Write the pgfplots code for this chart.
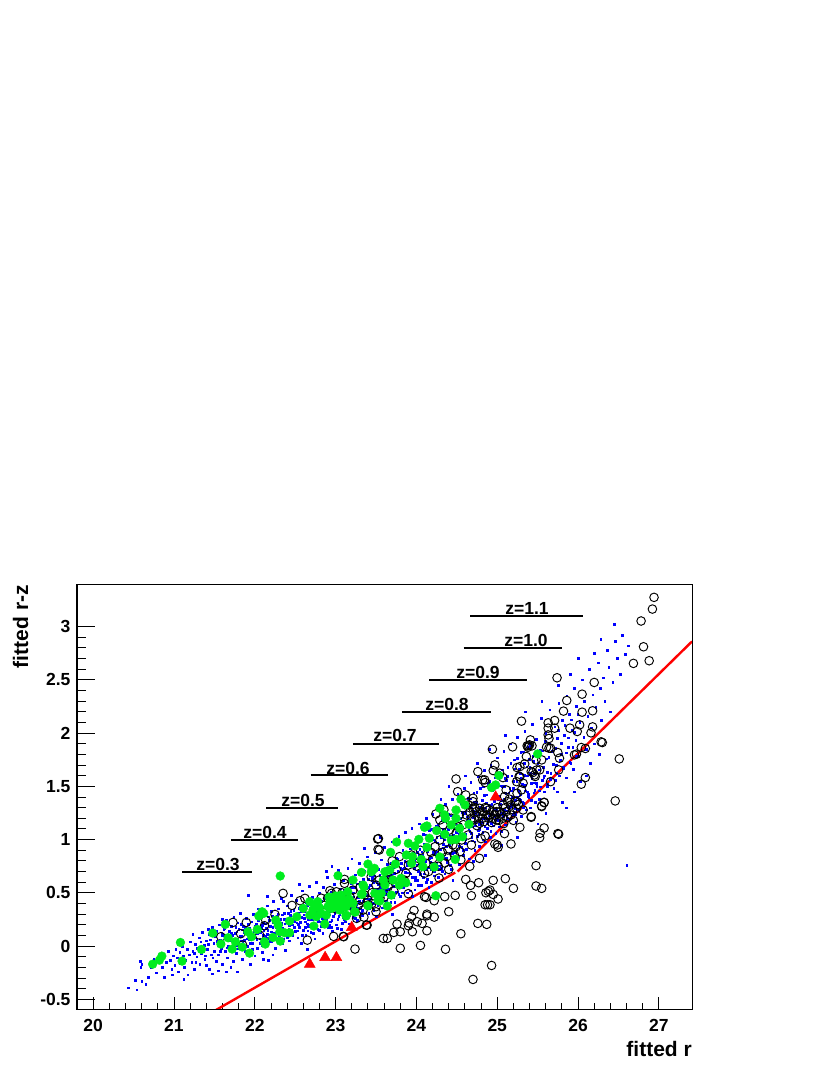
\documentclass[border=0pt]{standalone}
\usepackage{fontspec}
\setmainfont{Liberation Sans}
\usepackage{pgfplots}
\pgfplotsset{compat=1.18}
\definecolor{rootblue}{RGB}{0,0,255}
\definecolor{rootgreen}{RGB}{0,236,30}
\definecolor{rootred}{RGB}{255,0,0}
\newcommand{\zlab}[3]{\addplot[black,line width=2pt,forget plot] coordinates {(#1,#3) (#2,#3)};}
\begin{document}
\begin{tikzpicture}[x=1pt,y=1pt]
\path[use as bounding box] (0,0) rectangle (830,1075);
\pgfplotsset{rootaxis/.style={
    at={(77pt,65pt)}, anchor=south west, scale only axis,
    width=615pt, height=425pt,
    xmin=19.8, xmax=27.41, ymin=-0.6, ymax=3.39,
    axis line style={line width=1pt,black},
    tick style={black,line width=0.9pt},
    tick align=inside,
    xtick pos=bottom, ytick pos=left,
    clip=true,
}}
\begin{axis}[rootaxis,
    xtick={20,21,22,23,24,25,26,27},
    xticklabels={20,21,22,23,24,25,26,27},
    minor x tick num=4,
    ytick=\empty,
    major tick length=13pt, minor tick length=6.5pt,
    x tick label style={font=\fontsize{17.5}{20}\selectfont\bfseries,yshift=-6pt},
]
% blue dots: reconstructed cloud
\addplot[only marks,mark=square*,mark size=0.85pt,rootblue,forget plot] coordinates {
(20.43,-0.39)(20.52,-0.32)(20.54,-0.41)(20.60,-0.33)(20.65,-0.36)(20.68,-0.29)(20.58,-0.14)(20.59,-0.20)(20.60,-0.17)(20.72,-0.20)(20.75,-0.12)(20.78,-0.25)(20.82,-0.10)(20.85,-0.20)(20.88,-0.29)(20.90,-0.15)(20.93,-0.05)(20.95,-0.13)(20.97,-0.22)(20.99,-0.09)
(21.01,-0.18)(21.02,-0.03)(21.04,-0.11)(21.05,-0.24)(21.07,-0.06)(21.08,-0.16)(21.10,0.00)(21.11,-0.09)(21.13,-0.20)(21.14,-0.13)(21.16,-0.03)(21.17,-0.27)(21.19,-0.08)(21.20,0.04)(21.22,-0.15)(21.23,-0.05)(21.25,-0.22)(21.26,0.02)(21.28,-0.10)(21.29,-0.02)(21.31,0.08)(21.32,-0.17)(21.34,-0.07)(21.35,0.13)(21.37,0.01)(21.38,-0.12)(21.40,0.05)(21.41,-0.03)(21.43,0.11)(21.44,-0.22)(21.46,-0.08)(21.47,0.18)(21.49,0.03)(21.50,-0.05)
(21.51,0.09)(21.52,-0.14)(21.53,0.14)(21.54,0.01)(21.55,-0.08)(21.56,0.20)(21.57,0.06)(21.58,-0.02)(21.59,0.12)(21.60,-0.17)(21.61,0.03)(21.62,0.17)(21.63,-0.05)(21.64,0.08)(21.65,0.24)(21.66,-0.11)(21.67,0.00)(21.68,0.14)(21.69,0.05)(21.70,-0.03)(21.71,0.19)(21.72,0.10)(21.73,-0.14)(21.74,0.27)(21.75,0.02)(21.76,0.12)(21.77,-0.07)(21.78,0.07)(21.79,0.22)(21.80,0.16)(21.81,-0.01)(21.82,0.31)(21.83,0.09)(21.84,-0.12)(21.85,0.04)(21.86,0.19)(21.87,0.13)(21.88,-0.05)(21.89,0.26)(21.90,0.07)(21.91,0.00)(21.92,0.48)(21.93,0.17)(21.94,-0.17)(21.95,0.11)(21.96,0.23)(21.97,0.03)(21.98,0.30)(21.99,0.14)(22.00,-0.09)
(22.01,0.08)(22.02,0.21)(22.03,-0.02)(22.04,0.35)(22.05,0.13)(22.06,0.03)(22.07,0.26)(22.08,0.17)(22.09,-0.06)(22.10,0.10)(22.11,0.29)(22.12,0.01)(22.13,0.21)(22.14,0.06)(22.15,0.38)(22.16,0.15)(22.17,-0.13)(22.18,0.24)(22.19,0.10)(22.20,0.33)(22.21,0.04)(22.22,0.18)(22.23,0.42)(22.24,0.12)(22.25,-0.02)(22.26,0.27)(22.27,0.08)(22.28,0.20)(22.29,0.35)(22.30,0.14)(22.31,0.03)(22.32,0.25)(22.33,0.45)(22.34,0.17)(22.35,0.07)(22.36,0.31)(22.37,0.21)(22.38,-0.04)(22.39,0.12)(22.40,0.38)(22.41,0.24)(22.42,0.16)(22.43,0.05)(22.44,0.29)(22.45,0.48)(22.46,0.20)(22.47,0.10)(22.48,0.34)(22.49,0.26)(22.50,0.14)
(22.51,0.43)(22.52,0.22)(22.53,0.08)(22.54,0.31)(22.55,0.18)(22.56,0.37)(22.57,0.03)(22.58,0.27)(22.59,0.52)(22.60,0.15)(22.61,0.33)(22.62,0.23)(22.63,0.10)(22.64,0.41)(22.65,0.29)(22.66,0.19)(22.67,0.56)(22.68,0.36)(22.69,0.13)(22.70,0.25)(22.71,0.46)(22.72,0.31)(22.73,0.20)(22.74,0.07)(22.75,0.39)(22.76,0.60)(22.77,0.27)(22.78,0.16)(22.79,0.34)(22.80,0.50)(22.81,0.23)(22.82,0.42)(22.83,0.30)(22.84,0.12)(22.85,0.55)(22.86,0.37)(22.87,0.21)(22.88,0.45)(22.89,0.28)(22.90,0.65)(22.91,0.18)(22.92,0.40)(22.93,0.33)(22.94,0.51)(22.95,0.24)(22.96,0.14)(22.97,0.44)(22.98,0.58)(22.99,0.31)(23.00,0.37)
(23.01,0.20)(23.02,0.48)(23.03,0.71)(23.04,0.28)(23.05,0.41)(23.06,0.54)(23.07,0.16)(23.08,0.34)(23.09,0.62)(23.10,0.45)(23.11,0.25)(23.12,0.39)(23.13,0.52)(23.14,0.30)(23.15,0.73)(23.16,0.47)(23.17,0.21)(23.18,0.36)(23.19,0.59)(23.20,0.43)(23.21,0.27)(23.22,0.50)(23.23,0.33)(23.24,0.67)(23.25,0.55)(23.26,0.39)(23.27,0.24)(23.28,0.46)(23.29,0.78)(23.30,0.60)(23.31,0.35)(23.32,0.52)(23.33,0.29)(23.34,0.42)(23.35,0.70)(23.36,0.56)(23.37,0.37)(23.38,0.48)(23.39,0.84)(23.40,0.63)(23.41,0.31)(23.42,0.44)(23.43,0.57)(23.44,0.75)(23.45,0.40)(23.46,0.52)(23.47,0.34)(23.48,0.66)(23.49,0.88)(23.50,0.49)
(23.51,0.60)(23.52,0.38)(23.53,0.72)(23.54,0.54)(23.55,0.44)(23.56,0.81)(23.57,0.64)(23.58,0.36)(23.59,0.50)(23.60,0.93)(23.61,0.58)(23.62,0.70)(23.63,0.42)(23.64,0.77)(23.65,0.54)(23.66,0.62)(23.67,0.87)(23.68,0.46)(23.69,0.67)(23.70,0.98)(23.71,0.56)(23.72,0.74)(23.73,0.41)(23.74,0.63)(23.75,0.83)(23.76,0.51)(23.77,0.70)(23.78,1.03)(23.79,0.60)(23.80,0.47)(23.81,0.78)(23.82,0.66)(23.83,0.90)(23.84,0.55)(23.85,0.73)(23.86,1.07)(23.87,0.62)(23.88,0.84)(23.89,0.50)(23.90,0.69)(23.91,0.95)(23.92,0.78)(23.93,0.58)(23.94,1.11)(23.95,0.65)(23.96,0.87)(23.97,0.73)(23.98,0.53)(23.99,1.00)(24.00,0.82)
(24.01,0.62)(24.02,0.70)(24.03,1.15)(24.04,0.91)(24.05,0.76)(24.06,0.57)(24.07,0.85)(24.08,1.05)(24.09,0.68)(24.10,0.96)(24.11,0.80)(24.12,1.20)(24.13,0.63)(24.14,0.89)(24.15,0.74)(24.16,1.09)(24.17,0.93)(24.18,0.60)(24.19,0.83)(24.20,1.24)(24.21,1.00)(24.22,0.70)(24.23,0.87)(24.24,1.13)(24.25,0.78)(24.26,0.97)(24.27,0.65)(24.28,1.29)(24.29,0.91)(24.30,1.05)(24.31,0.73)(24.32,1.18)(24.33,0.84)(24.34,1.00)(24.35,0.68)(24.36,1.33)(24.37,0.94)(24.38,0.79)(24.39,1.10)(24.40,1.24)(24.41,0.87)(24.42,1.03)(24.43,0.72)(24.44,1.38)(24.45,0.97)(24.46,1.15)(24.47,0.83)(24.48,1.27)(24.49,1.07)(24.50,0.90)
(24.51,1.43)(24.52,1.00)(24.53,0.77)(24.54,1.20)(24.55,1.34)(24.56,0.93)(24.57,1.12)(24.58,0.85)(24.59,1.48)(24.60,1.05)(24.61,1.26)(24.62,0.96)(24.63,1.17)(24.64,1.39)(24.65,0.82)(24.66,1.08)(24.67,1.54)(24.68,1.30)(24.69,0.99)(24.70,1.21)(24.71,1.44)(24.72,0.90)(24.73,1.13)(24.74,1.35)(24.75,1.03)(24.76,1.59)(24.77,1.24)(24.78,0.94)(24.79,1.48)(24.80,1.16)(24.81,1.37)(24.82,1.07)(24.83,1.28)(24.84,1.65)(24.85,0.98)(24.86,1.20)(24.87,1.42)(24.88,1.11)(24.89,1.53)(24.90,1.32)(24.91,1.02)(24.92,1.70)(24.93,1.24)(24.94,1.46)(24.95,1.13)(24.96,1.36)(24.97,1.58)(24.98,1.06)(24.99,1.28)(25.00,1.77)
(25.01,1.18)(25.02,1.41)(25.03,1.63)(25.04,1.30)(25.05,1.08)(25.06,1.50)(25.07,1.22)(25.08,1.83)(25.09,1.38)(25.10,1.14)(25.11,1.56)(25.12,1.27)(25.13,1.68)(25.14,1.44)(25.15,1.19)(25.16,1.90)(25.17,1.33)(25.18,1.60)(25.19,1.24)(25.20,1.48)(25.21,1.75)(25.22,1.37)(25.23,1.16)(25.24,1.55)(25.25,1.96)(25.26,1.28)(25.27,1.66)(25.28,1.42)(25.29,1.82)(25.30,1.22)(25.31,1.52)(25.32,1.34)(25.33,1.72)(25.34,2.02)(25.35,1.46)(25.36,1.28)(25.37,1.60)(25.38,1.87)(25.39,1.40)(25.40,1.68)(25.41,1.30)(25.42,1.53)(25.43,2.08)(25.44,1.78)(25.45,1.44)(25.46,1.62)(25.47,1.35)(25.48,1.94)(25.49,1.50)(25.50,1.72)
(25.52,1.38)(25.53,1.84)(25.54,2.14)(25.56,1.56)(25.57,1.68)(25.58,1.45)(25.60,2.00)(25.61,1.76)(25.62,1.52)(25.64,1.90)(25.65,2.22)(25.66,1.62)(25.68,1.83)(25.70,1.48)(25.71,2.06)(25.73,1.70)(25.74,1.95)(25.76,2.28)(25.77,1.60)(25.79,1.80)(25.80,2.12)(25.82,1.68)(25.83,1.98)(25.85,1.58)(25.86,2.35)(25.88,1.87)(25.89,2.18)(25.91,1.72)(25.92,2.03)(25.94,1.66)(25.95,2.42)(25.97,1.93)(25.98,2.25)(26.00,1.78)(26.02,2.10)(26.03,1.55)(26.05,2.50)(26.07,1.96)(26.08,2.30)(26.10,1.85)(26.12,2.16)(26.14,2.60)(26.16,2.05)(26.18,2.36)(26.20,1.90)(26.22,2.24)(26.25,2.66)(26.27,2.42)(26.29,2.12)(26.31,2.52)(26.33,2.30)(26.36,2.78)(26.38,2.62)(26.40,2.20)(26.43,2.48)(26.46,2.86)(26.48,2.70)(26.52,2.55)(26.55,2.92)(26.58,2.74)(26.60,0.76)(26.62,2.82)(25.74,1.45)(25.85,1.30)(25.60,1.25)
(21.55,-0.23)(21.70,-0.20)(21.62,0.10)(21.77,0.01)(21.83,0.05)(21.87,0.00)(21.93,0.06)(21.97,-0.03)(22.03,0.12)(22.07,0.07)(22.11,0.15)(22.15,0.11)(22.19,0.19)(22.23,0.23)(22.27,0.28)(22.31,0.16)(22.33,0.22)(22.37,0.13)(22.41,0.31)(22.45,0.22)(22.49,0.18)(22.53,0.27)(22.57,0.33)(22.61,0.26)(22.65,0.21)(22.69,0.30)(22.73,0.36)(22.77,0.33)(22.81,0.29)(22.85,0.25)(22.89,0.38)(22.93,0.23)(22.97,0.28)(23.01,0.41)(23.05,0.30)(23.09,0.27)(23.13,0.43)(23.17,0.35)(23.21,0.38)(23.25,0.31)(23.29,0.42)(23.33,0.60)(23.37,0.49)(23.41,0.55)(23.45,0.62)(23.49,0.43)(23.53,0.58)(23.57,0.47)(23.61,0.53)(23.65,0.66)(23.69,0.60)(23.73,0.68)(23.77,0.55)(23.81,0.72)(23.85,0.64)(23.89,0.76)(23.93,0.68)(23.97,0.80)(24.01,0.88)(24.05,0.83)(24.09,0.74)(24.13,0.95)(24.17,0.79)(24.21,0.88)(24.25,1.02)(24.29,0.82)(24.33,1.10)(24.37,1.03)(24.41,0.95)(24.45,1.22)(24.49,1.14)(24.53,1.05)(24.57,1.26)(24.61,1.00)(24.65,1.32)(24.69,1.12)(24.73,1.25)(24.77,1.05)(24.81,1.20)(24.85,1.30)(24.89,1.18)(24.93,1.33)(24.97,1.22)(25.01,1.38)(25.05,1.25)(25.09,1.50)(25.13,1.30)(25.17,1.46)(25.21,1.25)(25.25,1.40)(25.29,1.58)(25.33,1.50)(25.37,1.45)(25.41,1.62)
(21.05,0.02)(20.98,-0.27)(21.23,0.11)(21.12,-0.31)(21.40,-0.18)(21.42,0.16)(21.60,0.25)(21.47,-0.26)(21.65,-0.24)(21.78,-0.24)(22.10,-0.12)(22.22,-0.08)(22.35,0.42)(22.15,0.47)(22.55,0.58)(22.65,-0.03)(22.88,0.70)(22.95,0.75)(23.20,0.82)(23.35,0.92)(23.55,1.02)(23.50,0.28)(23.70,0.30)(23.95,0.47)(24.15,0.55)(24.30,1.38)(24.40,1.50)(24.45,0.62)(24.60,1.60)(24.70,0.80)(24.75,1.72)(24.85,0.85)(24.90,1.85)(25.05,0.95)(25.10,1.98)(25.25,1.02)(25.35,2.20)(25.50,1.15)(25.55,2.30)(25.75,2.45)(25.90,2.55)(26.00,2.70)(26.20,2.75)(26.28,2.88)(26.45,3.02)(25.80,1.35)(26.10,1.60)(26.15,1.72)(26.26,1.80)(25.95,1.45)
(21.535,0.045)(21.575,-0.045)(21.595,0.105)(21.615,0.155)(21.655,-0.015)(21.685,0.085)(21.705,0.125)(21.735,0.035)(21.765,0.175)(21.785,-0.025)(21.815,0.095)(21.845,0.155)(21.865,0.055)(21.895,0.125)(21.915,0.205)(21.945,0.025)(21.985,0.095)(21.775,0.135)(21.825,0.205)(21.885,0.175)
(22.005,0.185)(22.025,0.065)(22.045,0.245)(22.065,0.125)(22.085,0.005)(22.105,0.215)(22.125,0.095)(22.145,0.165)(22.165,0.275)(22.185,0.045)(22.205,0.135)(22.225,0.225)(22.245,0.075)(22.265,0.175)(22.285,0.305)(22.305,0.105)(22.325,0.205)(22.345,0.025)(22.365,0.255)(22.385,0.145)(22.405,0.085)(22.425,0.195)(22.445,0.325)(22.465,0.125)(22.485,0.235)(22.035,0.155)(22.095,0.195)(22.155,0.075)(22.215,0.285)(22.275,0.135)(22.335,0.295)(22.395,0.225)(22.455,0.155)
(22.505,0.285)(22.525,0.145)(22.545,0.355)(22.565,0.225)(22.585,0.105)(22.605,0.295)(22.625,0.175)(22.645,0.385)(22.665,0.255)(22.685,0.195)(22.705,0.335)(22.725,0.125)(22.745,0.275)(22.765,0.425)(22.785,0.235)(22.805,0.355)(22.825,0.185)(22.845,0.305)(22.865,0.455)(22.885,0.245)(22.905,0.375)(22.925,0.295)(22.945,0.175)(22.965,0.345)(22.985,0.485)(22.535,0.205)(22.595,0.335)(22.655,0.145)(22.715,0.255)(22.775,0.395)(22.835,0.265)(22.895,0.325)(22.955,0.425)
(23.005,0.335)(23.025,0.255)(23.045,0.485)(23.065,0.385)(23.085,0.215)(23.105,0.525)(23.125,0.345)(23.145,0.445)(23.165,0.285)(23.185,0.555)(23.205,0.375)(23.225,0.465)(23.245,0.265)(23.265,0.585)(23.285,0.415)(23.305,0.505)(23.325,0.335)(23.345,0.625)(23.365,0.445)(23.385,0.545)(23.405,0.385)(23.425,0.665)(23.445,0.485)(23.465,0.595)(23.485,0.405)(23.035,0.425)(23.095,0.305)(23.155,0.395)(23.215,0.555)(23.275,0.355)(23.335,0.525)(23.395,0.445)(23.455,0.645)
(23.505,0.535)(23.525,0.445)(23.545,0.665)(23.565,0.565)(23.585,0.425)(23.605,0.725)(23.625,0.515)(23.645,0.625)(23.665,0.455)(23.685,0.775)(23.705,0.595)(23.725,0.685)(23.745,0.505)(23.765,0.815)(23.785,0.645)(23.805,0.735)(23.825,0.555)(23.845,0.865)(23.865,0.695)(23.885,0.785)(23.905,0.595)(23.925,0.915)(23.945,0.755)(23.965,0.835)(23.985,0.645)(23.555,0.585)(23.615,0.485)(23.675,0.635)(23.735,0.755)(23.795,0.555)(23.855,0.795)(23.915,0.685)(23.975,0.925)
(24.005,0.765)(24.025,0.995)(24.045,0.675)(24.065,0.885)(24.085,0.795)(24.105,1.045)(24.125,0.725)(24.145,0.945)(24.165,0.825)(24.185,1.095)(24.205,0.775)(24.225,0.985)(24.245,0.885)(24.265,1.135)(24.285,0.755)(24.305,1.025)(24.325,0.925)(24.345,1.175)(24.365,0.825)(24.385,1.065)(24.405,0.965)(24.425,1.225)(24.445,0.875)(24.465,1.105)(24.485,1.005)(24.035,0.855)(24.095,0.905)(24.155,1.035)(24.215,0.865)(24.275,1.075)(24.335,0.955)(24.395,1.145)(24.455,1.045)
(24.505,1.285)(24.525,0.935)(24.545,1.145)(24.565,1.055)(24.585,1.335)(24.605,0.965)(24.625,1.215)(24.645,1.105)(24.665,1.385)(24.685,1.025)(24.705,1.265)(24.725,1.165)(24.745,1.445)(24.765,1.085)(24.785,1.305)(24.805,1.195)(24.825,1.495)(24.845,1.125)(24.865,1.345)(24.885,1.255)(24.905,1.545)(24.925,1.155)(24.945,1.395)(24.965,1.285)(24.985,1.605)(24.535,1.075)(24.595,1.245)(24.655,1.185)(24.715,1.355)(24.775,1.145)(24.835,1.415)(24.895,1.225)(24.955,1.475)
(25.005,1.235)(25.025,1.505)(25.045,1.365)(25.065,1.655)(25.085,1.275)(25.105,1.435)(25.125,1.595)(25.145,1.305)(25.165,1.715)(25.185,1.395)(25.205,1.545)(25.225,1.295)(25.245,1.765)(25.265,1.455)(25.285,1.625)(25.305,1.355)(25.325,1.825)(25.345,1.515)(25.365,1.685)(25.385,1.405)(25.405,1.885)(25.425,1.575)(25.445,1.735)(25.465,1.465)(25.485,1.815)(25.035,1.335)(25.095,1.575)(25.155,1.485)(25.215,1.665)(25.275,1.385)(25.335,1.605)(25.395,1.755)(25.455,1.535)
(25.515,1.655)(25.535,1.495)(25.555,1.835)(25.575,1.585)(25.595,1.925)(25.615,1.635)(25.635,1.775)(25.655,1.565)(25.675,1.975)(25.695,1.705)(25.715,1.855)(25.735,1.625)(25.755,2.025)(25.775,1.745)(25.795,1.905)(25.815,1.665)(25.835,2.075)(25.855,1.815)(25.875,1.955)(25.895,1.725)(25.915,2.125)(25.935,1.865)(25.955,2.005)(25.975,1.785)(25.995,2.175)
(21.25,-0.07)(21.27,-0.15)(21.33,0.04)(21.36,-0.05)(21.39,-0.09)(21.42,0.02)(21.45,0.06)(21.48,-0.11)
% lower edge of the band, down to the red line
(22.72,0.12)(22.80,0.15)(22.92,0.20)(23.02,0.17)(23.12,0.23)(23.22,0.27)(23.32,0.31)(23.42,0.35)(23.52,0.40)(23.62,0.37)(23.72,0.46)(23.82,0.50)(23.92,0.52)(24.02,0.57)(24.12,0.60)(24.22,0.66)(24.32,0.70)(24.42,0.76)(24.52,0.83)(24.62,0.91)(24.72,0.98)(24.82,1.00)(24.92,1.08)(25.02,1.12)(25.12,1.20)(25.22,1.24)(25.32,1.30)(25.42,1.37)(25.52,1.46)(25.62,1.50)(25.72,1.56)
(23.58,0.54)(23.68,0.41)(23.78,0.49)(23.88,0.57)(23.98,0.62)(24.08,0.65)(24.18,0.72)(24.28,0.72)(24.38,0.80)(24.48,0.88)(24.58,0.90)(24.68,1.06)(24.78,1.10)(24.88,1.15)(24.98,1.19)(25.08,1.25)(25.18,1.31)(25.28,1.37)(25.38,1.43)(25.48,1.53)(25.58,1.60)
};
% open circles
\addplot[only marks,mark=o,mark size=4.3pt,black,mark options={line width=0.95pt},forget plot] coordinates {
(24.70,-0.313)(24.93,-0.182)(24.36,-0.03)(23.80,-0.02)(24.05,0.006)(23.24,-0.028)(24.55,0.116)(23.59,0.072)(23.64,0.072)(23.72,0.128)(23.80,0.135)(23.76,0.207)(23.90,0.191)(23.91,0.216)(23.95,0.135)(24.13,0.144)(24.07,0.213)(24.01,0.229)(23.94,0.276)(23.97,0.335)(24.13,0.30)(24.13,0.285)(24.22,0.272)(24.40,0.323)(24.76,0.213)(24.87,0.204)(24.85,0.388)(24.88,0.388)(24.91,0.388)(25.01,0.442)(24.68,0.473)(24.48,0.476)(24.35,0.464)(24.22,0.426)(24.12,0.457)(24.10,0.464)(24.86,0.501)(24.89,0.514)(24.95,0.485)(24.91,0.526)(24.67,0.57)(24.61,0.626)(24.77,0.595)(24.95,0.617)(25.10,0.633)(25.20,0.542)(25.48,0.564)(25.55,0.542)(25.48,0.755)(24.66,0.749)(24.78,0.824)(24.28,0.639)(23.90,0.492)(24.10,0.683)(25.17,0.959)(24.97,0.959)(25.01,0.927)(25.0,0.949)(25.525,1.018)(25.53,1.059)(25.58,1.109)(25.75,1.056)(25.76,1.05)(25.28,1.115)(25.42,1.209)(25.55,1.316)(25.58,1.347)(25.09,1.056)(24.85,1.034)(24.80,1.009)(23.54,0.902)(23.53,1.009)(24.49,1.569)(24.94,1.848)(25.19,1.87)(26.46,1.363)(26.51,1.757)
(24.51,1.45)(24.61,1.419)(24.70,1.388)(24.76,1.638)(24.82,1.56)(24.85,1.535)(24.97,1.701)(25.03,1.623)(25.28,1.685)(25.28,1.59)(25.24,1.544)(25.30,1.466)(25.32,1.529)(25.40,1.889)(25.43,1.88)(25.38,1.867)(25.48,1.748)(25.42,1.638)(25.525,1.654)(25.46,1.607)(25.64,1.858)(25.75,1.817)(25.77,1.764)(25.76,1.654)(25.66,1.544)
(24.70,1.294)(24.74,1.262)(24.78,1.294)(24.82,1.262)(24.87,1.294)(24.91,1.231)(24.95,1.2)(24.99,1.184)(24.89,1.2)(24.82,1.2)(24.76,1.215)(24.72,1.184)(24.78,1.153)(24.95,1.262)(25.03,1.262)(25.07,1.325)(25.13,1.356)(25.17,1.325)(25.22,1.356)(25.11,1.262)(25.17,1.231)(25.24,1.294)(25.07,1.2)(24.99,1.262)(24.87,1.231)(24.70,1.356)(24.64,1.325)(24.62,1.231)(24.53,1.231)
(24.29,1.184)(24.33,1.137)(24.41,1.09)(24.49,1.059)(24.56,0.996)(24.64,1.043)(24.68,0.949)(24.49,0.933)(24.54,0.886)(24.47,0.855)(24.39,0.902)(24.29,0.996)(24.23,0.933)(23.90,0.761)(23.79,0.84)(23.94,0.855)(24.12,0.777)(23.54,0.464)(23.40,0.432)(23.34,0.338)(23.38,0.197)(23.10,0.088)(23.21,0.37)(23.30,0.432)(23.50,0.37)(23.65,0.558)(23.54,0.62)(23.87,0.683)
(26.94,3.274)(26.92,3.164)(26.78,3.052)(26.81,2.81)(26.88,2.679)(26.685,2.654)(25.74,2.519)(26.2,2.475)(26.05,2.365)(25.86,2.306)(25.82,2.206)(26.05,2.196)(26.18,2.209)(25.30,2.112)(25.71,2.118)(25.63,2.096)(25.71,2.046)(25.90,2.046)(26.02,2.077)(25.99,2.015)(26.18,2.058)(26.16,2.002)(25.63,2.046)(25.63,1.983)(25.41,1.936)(25.385,1.883)(25.37,1.88)(25.64,1.949)(25.61,1.867)(25.66,1.858)(26.09,1.855)(26.04,1.864)(25.955,1.795)(25.98,1.802)(26.285,1.917)(26.30,1.911)(25.36,1.78)(25.34,1.71)(25.245,1.676)(25.55,1.748)(25.49,1.654)(25.44,1.629)(25.47,1.592)(24.95,1.648)(24.845,1.56)(25.07,1.582)(25.27,1.592)(25.245,1.435)(26.09,1.582)(26.04,1.52)(25.58,1.35)(25.55,1.31)(25.11,1.466)(25.09,1.404)(25.24,1.357)(25.32,1.278)(25.42,1.216)
(22.35,0.495)(23.52,1.005)(23.525,0.908)(23.11,0.626)(23.11,0.589)(22.46,0.382)(22.56,0.426)(22.62,0.448)(22.25,0.297)(22.135,0.244)(21.73,0.222)(21.895,0.222)(21.825,0.116)(21.58,0.088)(22.06,0.103)(22.12,0.191)(22.65,0.056)(22.975,0.091)(23.095,0.091)(21.85,0.009)(23.35,0.272)(23.39,0.197)(23.5,0.322)(23.26,0.26)(23.01,0.51)(22.95,0.495)(23.215,0.526)(23.30,0.432)(23.44,0.651)(23.50,0.573)(23.40,0.385)
(22.75,0.30)(22.90,0.45)(23.05,0.42)(23.30,0.55)(23.45,0.50)(23.55,0.45)(23.60,0.62)(23.70,0.62)(23.75,0.72)(23.65,0.70)(24.00,0.75)(24.20,0.82)(24.35,0.78)(24.40,0.72)(24.55,0.81)
(24.66,1.26)(24.68,1.20)(24.72,1.30)(24.75,1.13)(24.80,1.24)(24.84,1.17)(24.85,1.30)(24.90,1.28)(24.93,1.16)(24.97,1.23)(25.00,1.30)(25.02,1.18)(25.05,1.24)(25.08,1.15)(25.10,1.30)(25.13,1.21)(25.15,1.38)(25.19,1.28)(25.20,1.18)(25.26,1.33)
(23.70,0.80)(23.85,0.62)(23.98,0.78)(24.05,0.90)(24.15,0.70)(24.18,0.88)(24.27,0.75)(24.32,0.88)(24.38,0.84)(24.45,0.95)(24.52,1.12)(24.58,1.14)(24.43,1.20)(24.34,1.28)(24.24,1.24)
(22.82,0.45)(22.88,0.32)(22.93,0.52)(23.00,0.35)(23.08,0.50)(23.15,0.33)(23.18,0.46)(23.28,0.38)(23.36,0.48)(23.45,0.40)(23.60,0.46)(23.72,0.52)
};
% green dots
\addplot[only marks,mark=*,mark size=4.4pt,rootgreen,mark options={draw=rootgreen},forget plot] coordinates {
(20.736,-0.17)(20.82,-0.132)(20.85,-0.094)(21.10,-0.141)(21.08,0.034)(21.34,-0.031)(21.48,0.122)(21.58,0.019)(21.635,0.204)(21.67,0.078)(21.72,-0.028)(21.76,0.041)(21.845,-0.009)(21.935,-0.066)(21.915,0.134)(21.96,0.088)(22.05,0.282)(22.03,0.156)(22.09,0.322)(22.11,0.307)(22.12,0.041)(22.13,0.019)(22.225,0.081)(22.315,0.047)(22.315,0.658)(22.26,0.244)(22.29,0.197)(22.31,0.134)(22.37,0.125)(22.43,0.125)(22.43,0.235)(22.52,0.276)(22.60,0.354)(22.68,0.417)(22.78,0.417)(22.72,0.338)(22.68,0.291)(22.73,0.188)(22.865,0.207)(22.885,0.291)(22.76,0.276)(22.82,0.307)(22.93,0.417)(22.97,0.432)(23.03,0.464)(23.09,0.432)(23.13,0.291)(23.235,0.323)(23.215,0.401)(23.03,0.661)(23.15,0.51)(23.215,0.62)(23.32,0.692)(23.40,0.77)(23.46,0.714)(23.34,0.573)(23.32,0.485)(23.40,0.379)(23.485,0.495)(23.525,0.432)(23.01,0.37)(23.05,0.338)(22.97,0.37)(23.11,0.401)(23.07,0.479)(22.905,0.37)(22.95,0.354)(23.03,0.417)(22.74,0.38)(22.80,0.36)(22.92,0.46)(23.00,0.47)(23.06,0.39)(23.13,0.37)(23.17,0.44)
(23.13,0.282)(23.24,0.319)(23.09,0.37)(23.07,0.432)(23.15,0.401)(23.64,0.376)(23.545,0.423)(23.565,0.495)(23.69,0.479)(23.33,0.489)(23.35,0.558)(23.44,0.698)(23.48,0.73)(23.61,0.698)(23.67,0.714)(23.74,0.77)(23.59,0.62)(23.61,0.573)(23.71,0.62)(23.79,0.573)(23.87,0.595)(23.81,0.636)(23.68,0.88)(23.755,0.977)(23.90,0.965)(23.95,0.84)(23.875,0.855)(23.94,0.777)(24.08,0.746)(24.22,0.742)(24.29,0.836)(24.48,0.814)(24.06,0.814)(24.13,0.927)(24.03,1.002)(23.98,0.94)(24.16,1.012)(24.25,1.084)(24.35,1.05)(24.13,1.128)(24.10,1.115)(24.29,1.294)(24.35,1.231)(24.36,1.2)(24.49,1.278)(24.49,1.2)(24.43,1.137)(24.535,1.106)(24.65,1.143)(24.57,1.027)(24.49,1.002)(24.43,0.996)(24.55,1.378)(24.60,1.325)(24.93,1.488)(24.98,1.513)(25.02,1.601)(25.50,1.804)(24.24,0.473)
};
% red triangles
\addplot[only marks,mark=triangle*,mark size=6.3pt,rootred,mark options={draw=rootred},forget plot] coordinates {
(22.68,-0.17)(22.87,-0.107)(23.01,-0.107)(23.2,0.175)(24.98,1.40)
};
% detection limit
\addplot[rootred,line width=2.4pt,forget plot] coordinates {(21.52,-0.6)(24.48,0.69)};
\addplot[rootred,line width=2.4pt,forget plot] coordinates {(24.51,0.70)(25.3,1.30)(26.02,1.825)(27.41,2.86)};
% redshift marks
\zlab{21.10}{21.97}{0.70}
\zlab{21.71}{22.53}{1.00}
\zlab{22.14}{23.03}{1.30}
\zlab{22.69}{23.65}{1.604}
\zlab{23.215}{24.275}{1.90}
\zlab{23.82}{24.92}{2.196}
\zlab{24.16}{25.373}{2.50}
\zlab{24.585}{25.806}{2.798}
\zlab{24.667}{26.066}{3.098}
\end{axis}
\begin{axis}[rootaxis,
    xtick=\empty,
    ytick={-0.5,0,0.5,1,1.5,2,2.5,3},
    yticklabels={-0.5,0,0.5,1,1.5,2,2.5,3},
    minor y tick num=4,
    major tick length=18pt, minor tick length=9pt,
    y tick label style={font=\fontsize{17.5}{20}\selectfont\bfseries,xshift=-3pt},
]
\end{axis}
\begin{scope}[every node/.style={font=\fontsize{17.5}{20}\selectfont\bfseries,inner sep=0pt,anchor=base}]
\node at (218,204) {z=0.3};
\node at (265,236) {z=0.4};
\node at (303,268) {z=0.5};
\node at (348,300) {z=0.6};
\node at (395,333) {z=0.7};
\node at (447,364) {z=0.8};
\node at (478,396) {z=0.9};
\node at (526,428) {z=1.0};
\node at (527,460) {z=1.1};
\end{scope}
\node[font=\fontsize{21}{24}\selectfont\bfseries,inner sep=0pt,anchor=base east] at (692,18) {fitted r};
\node[font=\fontsize{21}{24}\selectfont\bfseries,inner sep=0pt,anchor=base east,rotate=90] at (28,490) {fitted r-z};
\end{tikzpicture}
\end{document}
